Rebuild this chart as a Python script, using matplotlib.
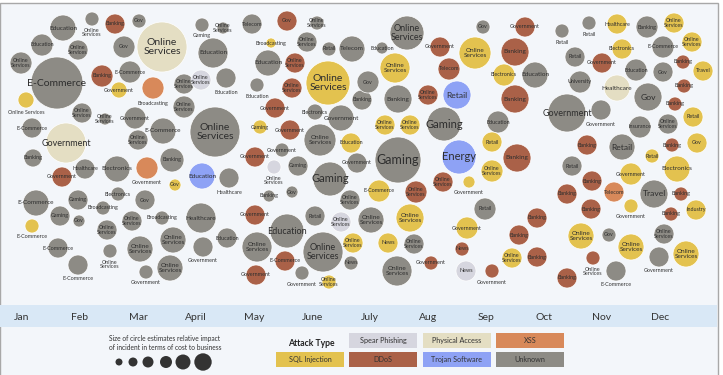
import matplotlib.pyplot as plt
from matplotlib.patches import Rectangle

plt.rcParams['font.family'] = ['Liberation Sans Narrow', 'Lato', 'DejaVu Sans']

# attack type colours
colors = {
    "U": "#8d8b85",   # Unknown
    "S": "#e3c24f",   # SQL Injection
    "D": "#aa6148",   # DDoS
    "X": "#d8895a",   # XSS
    "P": "#e4dec3",   # Physical Access
    "SP": "#d6d6df",  # Spear Phishing
    "T": "#8ea2f5",   # Trojan Software
}

months = ["Jan", "Feb", "Mar", "April", "May", "June", "July", "Aug", "Sep", "Oct", "Nov", "Dec"]
month_pos = [22 + 58 * i for i in range(12)]

# incidents: horizontal position (timeline), vertical slot, impact radius, type, sector
xs = [63, 92, 115, 139, 162, 42, 78, 21, 57, 102, 124, 130, 119, 153, 26, 82, 105, 135, 32, 66,
      138, 163, 184, 184,
      202, 223, 252, 287, 317, 213, 271, 307, 329, 352, 201, 226, 268, 295, 257, 292, 328, 215,
      275, 260, 290, 315, 341, 320, 351, 362,
      407, 382, 440, 475, 483, 525, 515, 395, 449, 504, 535, 368, 398, 428, 457, 515, 385, 410,
      444, 498, 492,
      562, 589, 617, 647, 674, 692, 622, 663, 575, 602, 636, 663, 683, 703, 580, 617, 648, 684,
      675, 693, 567, 601, 640, 668, 697, 587, 622, 672, 652,
      33, 172, 85, 62, 117, 147, 175, 36, 78, 118, 145, 103, 60, 79, 132, 162, 107, 32, 173, 58,
      110, 140, 170, 78, 146,
      255, 282, 357, 202, 229, 274, 298, 330, 269, 292, 350, 201, 255, 315, 341, 287, 227, 257,
      203, 323, 285, 353, 351, 256, 302, 329,
      398, 459, 517, 492, 443, 469, 379, 416, 485, 371, 410, 537, 467, 519, 388, 414, 462, 512,
      537, 397, 431, 466, 492,
      572, 631, 677, 592, 567, 614, 654, 681, 696, 591, 631, 671, 581, 609, 664, 631, 686, 593,
      659, 616, 567]
ys = [28, 19, 24, 21, 47, 45, 50, 63, 83, 76, 47, 72, 90, 88, 100, 113, 119, 118, 128, 143,
      140, 131, 84, 107,
      25, 28, 24, 21, 23, 53, 43, 42, 49, 49, 80, 78, 63, 63, 85, 88, 83, 132,
      108, 127, 130, 112, 118, 140, 143, 100,
      33, 48, 47, 53, 27, 27, 52, 68, 69, 75, 75, 82, 99, 95, 95, 99, 125, 125,
      124, 122, 142,
      31, 23, 24, 27, 23, 42, 49, 47, 57, 63, 70, 72, 62, 71, 82, 88, 97, 86,
      104, 117, 113, 110, 127, 124, 143, 145, 147, 145, 156,
      158, 160, 169, 177, 169, 168, 185, 203, 200, 194, 200, 208, 216, 221, 221, 218, 230, 226, 240, 248,
      251, 249, 268, 265, 272,
      157, 150, 163, 176, 178, 167, 166, 179, 196, 192, 200, 218, 215, 216, 222, 231, 238, 247,
      247, 252, 261, 243, 263, 275, 273, 282,
      160, 157, 158, 171, 182, 182, 191, 192, 209, 220, 218, 218, 228, 235, 243, 244, 249, 258,
      257, 271, 263, 271, 271,
      166, 174, 169, 181, 194, 192, 194, 194, 210, 209, 206, 214, 236, 235, 234, 247, 254, 258,
      257, 271, 278]
impact = [13, 7, 10, 7, 25, 11, 10, 11, 26, 11, 11, 11, 8, 11, 8, 10, 6, 11, 10, 20,
          10, 13, 10, 11,
          7, 6, 10, 10, 7, 15, 5, 10, 7, 13, 10, 10, 13, 10, 7, 10, 22, 25,
          10, 7, 10, 8, 13, 16, 10, 10,
          17, 6, 10, 16, 7, 10, 14, 15, 11, 11, 13, 11, 14, 10, 14, 14, 10, 10,
          17, 11, 10,
          7, 7, 10, 11, 10, 10, 10, 11, 10, 10, 11, 10, 7, 10, 11, 13, 14, 7,
          7, 10, 19, 10, 11, 10, 10, 10, 13, 7, 7,
          9, 12, 10, 10, 13, 11, 6, 13, 10, 7, 10, 7, 10, 6, 10, 7, 10, 7, 13, 10,
          7, 13, 13, 10, 7,
          10, 7, 10, 13, 10, 7, 10, 17, 6, 6, 10, 15, 10, 10, 10, 17, 10, 15,
          10, 20, 10, 10, 7, 10, 7, 7,
          23, 17, 14, 11, 10, 6, 11, 11, 11, 13, 14, 10, 11, 10, 10, 10, 7, 10,
          10, 15, 7, 10, 7,
          10, 11, 13, 10, 10, 10, 14, 7, 10, 10, 7, 7, 13, 7, 10, 13, 13, 7,
          10, 10, 10]
attack = ["U", "U", "D", "U", "P", "U", "U", "U", "U", "D", "U", "U", "S", "X", "S", "U", "U", "U", "U", "P",
          "U", "U", "U", "U",
          "U", "U", "U", "D", "U", "U", "S", "U", "U", "U", "SP", "U", "U", "D", "U", "D", "S", "U",
          "D", "S", "D", "U", "U", "U", "S", "U",
          "U", "U", "D", "S", "U", "D", "D", "S", "D", "S", "U", "U", "U", "D", "T", "D", "S", "S",
          "U", "U", "S",
          "U", "U", "S", "U", "S", "S", "S", "U", "U", "D", "U", "U", "D", "S", "U", "P", "U", "D",
          "D", "S", "U", "U", "U", "U", "S", "D", "U", "D", "S",
          "U", "U", "U", "D", "U", "X", "S", "U", "U", "U", "U", "U", "U", "U", "U", "U", "U", "S", "U", "U",
          "U", "U", "U", "U", "U",
          "D", "U", "U", "T", "U", "SP", "U", "U", "U", "U", "U", "U", "D", "U", "SP", "U", "U", "U",
          "U", "U", "D", "S", "U", "D", "U", "S",
          "U", "T", "D", "S", "D", "S", "S", "D", "U", "U", "S", "D", "S", "D", "S", "U", "D", "S",
          "D", "U", "D", "SP", "D",
          "U", "S", "S", "D", "D", "X", "U", "D", "S", "D", "S", "D", "S", "U", "U", "S", "S", "D",
          "U", "U", "D"]
OS = "Online\nServices"
sector = ["Education", OS, "Banking", "Gov", OS, "Education", OS, OS, "E-Commerce", "Banking",
          "Gov", "E-Commerce", "Government", "Broadcasting", "Online Services", OS, OS, "Government",
          "E-Commerce", "Government", OS, "E-Commerce", OS, OS,
          "Gaming", OS, "Telecom", "Gov", OS, "Education", "Broadcasting", OS, "Retail", "Telecom",
          OS, "Education", "Education", OS, "Education", OS, OS, OS,
          "Government", "Gaming", "Government", "Electronics", "Government", OS, "Education", "Banking",
          OS, "Education", "Government", OS, "Gov", "Government", "Banking", OS, "Telecom",
          "Electronics", "Education", "Gov", "Banking", OS, "Retail", "Banking", OS, OS,
          "Gaming", "Education", "Retail",
          "Retail", "Retail", "Healthcare", "Banking", OS, OS, "Electronics", "E-Commerce", "Retail",
          "Government", "Education", "Gov", "Banking", "Travel", "University", "Healthcare", "Gov",
          "Banking", "Banking", "Retail", "Government", "Government", "Insurance", OS, "Gov",
          "Banking", "Retail", "Banking", "Retail",
          "Banking", "Banking", "Healthcare", "Government", "Electronics", "Government", "Gov",
          "E-Commerce", "Gaming", "Electronics", "Gov", "Broadcasting", "Gaming", "Gov", OS,
          "Broadcasting", OS, "E-Commerce", OS, "E-Commerce", OS, OS, OS, "E-Commerce", "Government",
          "Government", "Government", "Government", "Education", "Healthcare", OS, "Gaming", "Gaming",
          "Banking", "Gov", OS, "Healthcare", "Government", "Retail", OS, "Education", "Education",
          OS, "Government", OS, "E-Commerce", OS, "News", "Government", "Government", OS,
          "Gaming", "Energy", "Banking", OS, OS, "Government", "E-Commerce", OS, "Retail", OS, OS,
          "Banking", "Government", "Banking", "News", OS, "News", OS, "Banking", OS, "Government",
          "News", "Government",
          "Retail", "Government", "Electronics", "Banking", "Banking", "Telecom", "Travel", "Banking",
          "Industry", "Banking", "Government", "Banking", OS, "Gov", OS, OS, OS, OS,
          "Government", "E-Commerce", "Banking"]
# indices whose label sits under the circle
below = {1, 13, 14, 24, 35, 38, 71, 72, 92, 105, 117, 120, 123, 124,
         129, 130, 143, 149, 156, 173, 184, 191, 192, 193}

fig = plt.figure(figsize=(7.23, 3.75), dpi=100)
fig.patch.set_facecolor("white")
ax = fig.add_axes([0, 0, 1, 1])
ax.set_xlim(0, 723)
ax.set_ylim(375, 0)
ax.axis("off")

# panel background, frame and month band
ax.add_patch(Rectangle((0, 3), 718, 380, facecolor="#f3f6fa", edgecolor="#a8a8a8", lw=1.0, zorder=0))
ax.add_patch(Rectangle((0, 305), 717, 22, facecolor="#d9e8f6", edgecolor="none", zorder=1))
for m, p in zip(months, month_pos):
    ax.text(p, 317, m, ha="center", va="center", fontsize=7.5, color="#333333", zorder=2)

sizes = [(1.44 * r) ** 2 for r in impact]
ax.scatter(xs, ys, s=sizes, c=[colors[a] for a in attack], edgecolors="white",
           linewidths=0.5, zorder=3)

for i, (x, y, r, lab) in enumerate(zip(xs, ys, impact, sector)):
    if r >= 22:
        fs = 7.5
    elif r >= 17:
        fs = 6.5
    elif r >= 13:
        fs = 4.6
    else:
        fs = 3.9
    if lab in ("Gov", "Energy", "Retail", "Gaming", "Travel", "News") and r >= 13:
        fs += 1.5
    if i in below:
        nl = lab.count("\n")
        ax.text(x, y + r + 4 + 2.5 * nl, lab, ha="center", va="center", fontsize=3.9,
                color="#333333", linespacing=0.95, zorder=4)
    else:
        ax.text(x, y, lab, ha="center", va="center", fontsize=fs, color="#2e2e2e",
                linespacing=0.95, zorder=4)

# size legend
ax.text(109, 338, "Size of circle estimates relative impact", fontsize=4.8, color="#333333",
        va="center", ha="left")
ax.text(109, 347, "of incident in terms of cost to business", fontsize=4.8, color="#333333",
        va="center", ha="left")
legend_r = [3.5, 4.5, 5.5, 6, 7.5, 8.7]
legend_x = [119, 133, 148, 166, 183, 203]
ax.scatter(legend_x, [362] * 6, s=[(1.44 * r) ** 2 for r in legend_r], c="#333333",
           edgecolors="none", zorder=3)

# attack type legend
ax.text(311, 343, "Attack Type", fontsize=6.2, fontweight="bold", color="#222222",
        ha="center", va="center")
legend_items = [("Spear Phishing", "SP", 349, 333), ("Physical Access", "P", 423, 333),
                ("XSS", "X", 496, 333), ("SQL Injection", "S", 276, 352), ("DDoS", "D", 349, 352),
                ("Trojan Software", "T", 423, 352), ("Unknown", "U", 496, 352)]
for name, key, lx, ly in legend_items:
    ax.add_patch(Rectangle((lx, ly), 68, 14.5, facecolor=colors[key], edgecolor="none", zorder=2))
    ax.text(lx + 34, ly + 7.3, name, fontsize=5.2, color="#333333", ha="center", va="center",
            zorder=3)

fig.savefig("out.png", dpi=100)
